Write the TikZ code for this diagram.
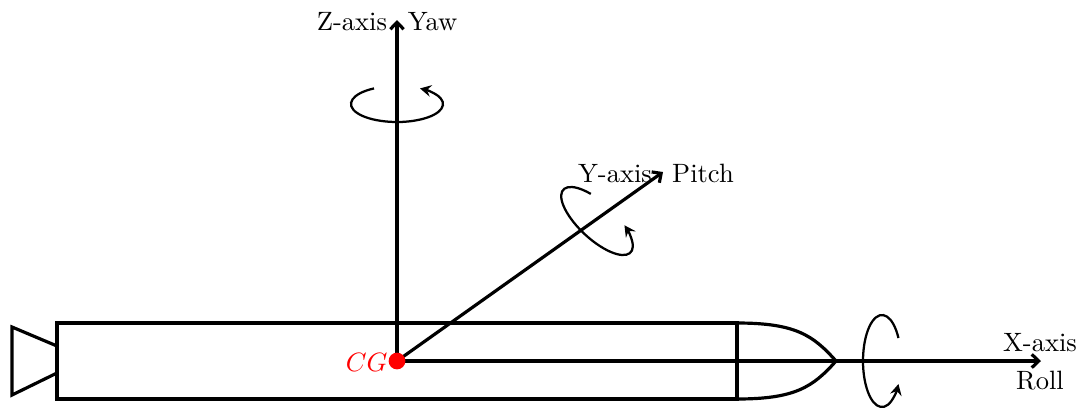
\documentclass[tikz,border=0pt]{standalone}
\usetikzlibrary{arrows.meta}
\tikzset{
  px/.style={x=0.377pt,y=0.377pt},
  hull/.style={line width=1.2pt,line join=miter},
  axisline/.style={line width=1.2pt,-{Straight Barb[length=2.6pt,width=5pt,line width=1.2pt]}},
  spin/.style={line width=0.85pt,-{Stealth[length=4.2pt,width=4.4pt,inset=1.5pt]}},
  lbl/.style={inner sep=0pt,anchor=base}
}
\begin{document}
\begin{tikzpicture}[px]
\useasboundingbox (0,0) rectangle (1082,407);
\clip (0,0) rectangle (1082,407);
% origin and free ends
\coordinate (cg) at (397,46);
\coordinate (xend) at (1041,46);
\coordinate (yend) at (663,235);
\coordinate (zend) at (397,387);
% hull
\coordinate (bodybl) at (57,8);
\coordinate (bodytr) at (737,84);
\coordinate (bodybr) at (737,8);
\coordinate (tip) at (836,46);
\draw[hull] (bodybl) rectangle (bodytr);
\draw[hull] (57,61) -- (12,80) -- (12,12) -- (57,34);
\draw[hull] (bodytr) .. controls (795,84) and (813,72) .. (tip)
                     .. controls (813,20) and (795,8) .. (bodybr);
% axes
\draw[axisline] (cg) -- (xend);
\draw[axisline] (cg) -- (yend);
\draw[axisline] (cg) -- (zend);
% rotation arrows
\draw[spin] ([shift={(120:46 and 18)}]397,303) arc[start angle=120,end angle=420,x radius=46,y radius=18];
\begin{scope}[shift={(597,186)},rotate=-43]
\draw[spin] (120:46 and 18) arc[start angle=120,end angle=420,x radius=46,y radius=18];
\end{scope}
\draw[spin] ([shift={(30:19 and 46)}]882,46) arc[start angle=30,end angle=330,x radius=19,y radius=46];
% CG
\node[circle,fill=red,inner sep=0pt,minimum size=6.3pt] (dot) at (cg) {};
\node[text=red,lbl,anchor=base east] (cglabel) at (388,36) {$CG$};
% labels
\node[lbl] (zl) at (352,376.8) {Z-axis};
\node[lbl] (yaw) at (432.5,376.8) {Yaw};
\node[lbl] (yl) at (615,225) {Y-axis};
\node[lbl] (pitch) at (703,225) {Pitch};
\node[lbl] (xl) at (1040,56) {X-axis};
\node[lbl] (roll) at (1040,17.7) {Roll};
\end{tikzpicture}
\end{document}
